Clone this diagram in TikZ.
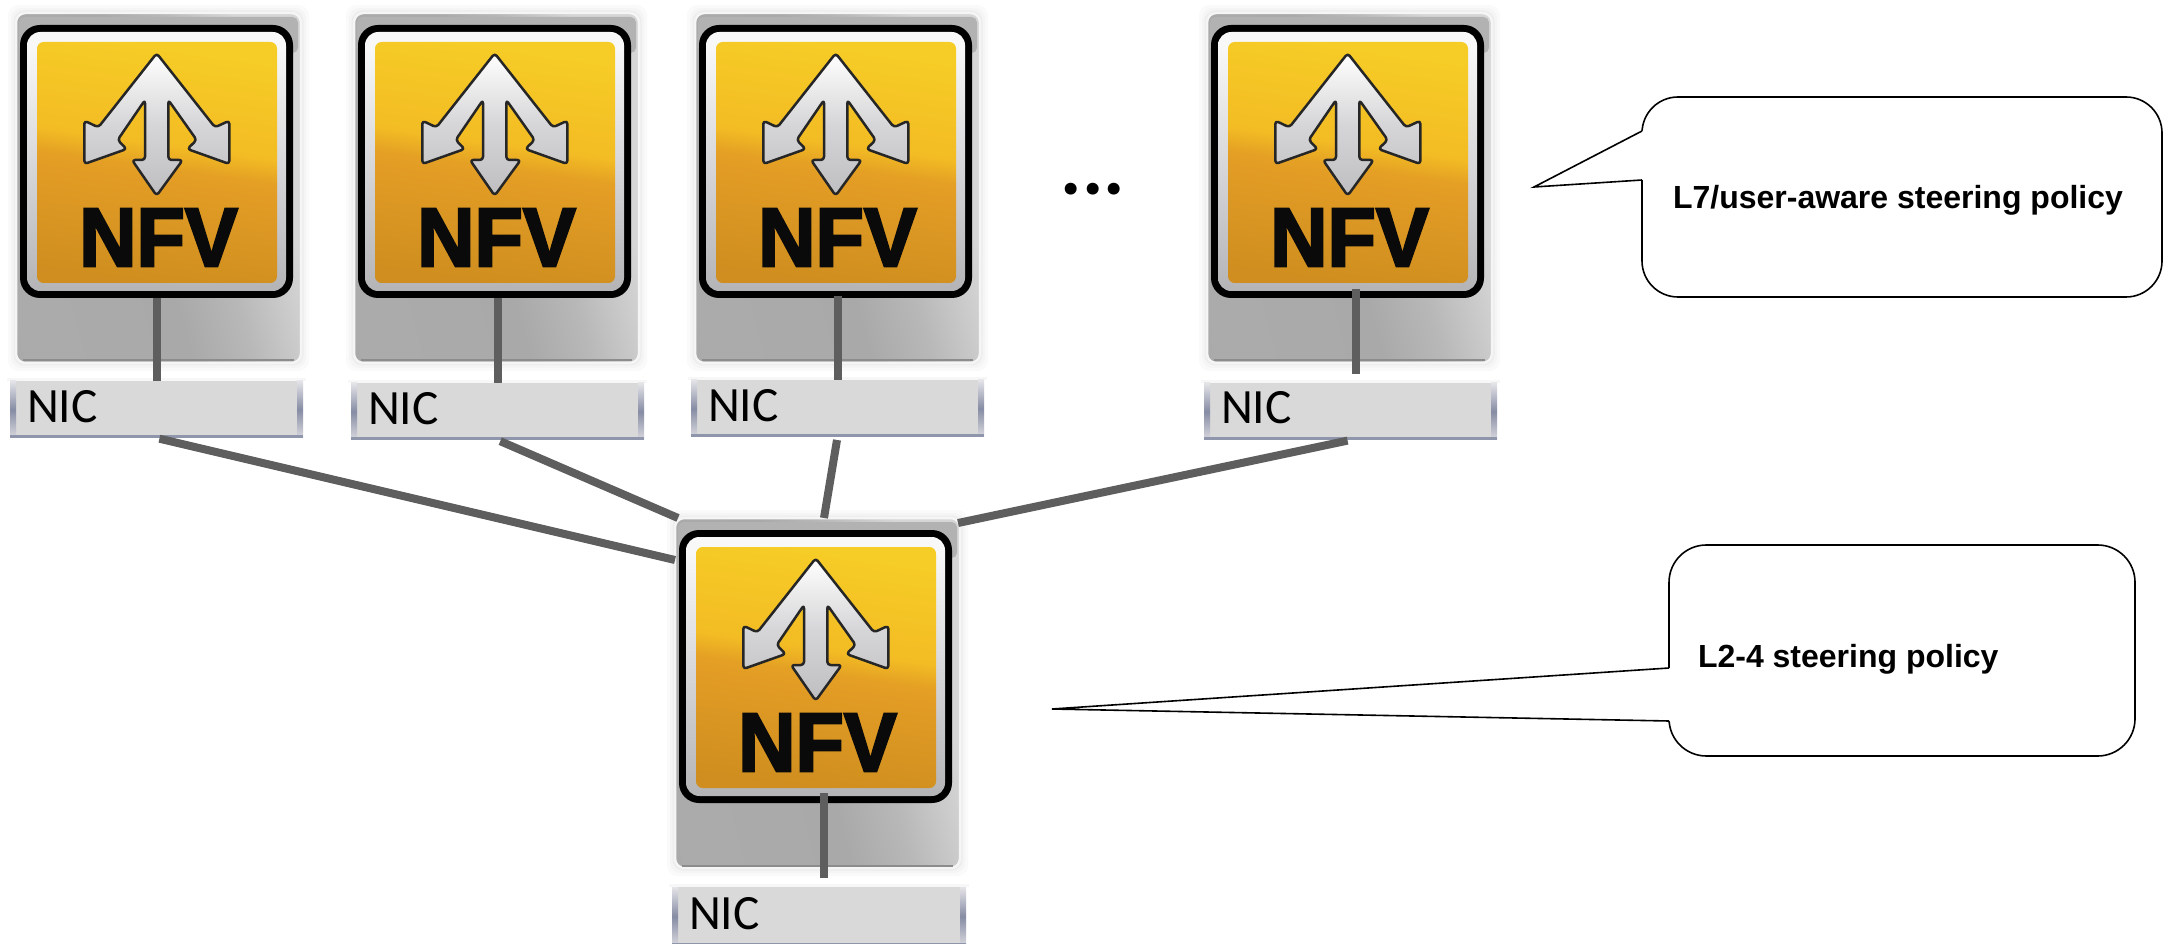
\documentclass[tikz,border=0pt]{standalone}
\usepackage{fontspec}
\usepackage{graphicx}
\setmainfont{Carlito}
\newfontfamily\calloutfont{Liberation Sans}
\newfontfamily\nfvfont[BoldFeatures={FakeBold=3}]{Liberation Sans}
\newdimen\px \px=0.75pt
\definecolor{linkgray}{HTML}{5E5E5E}
\definecolor{nicgray}{HTML}{D9D9D9}
\definecolor{nicedge}{HTML}{8F95AB}
\definecolor{oA}{HTML}{CF8E1F}\definecolor{oB}{HTML}{E39D25}\definecolor{oC}{HTML}{E4A024}\definecolor{oD}{HTML}{F3BC24}\definecolor{oE}{HTML}{F6CD26}
\definecolor{fA}{HTML}{B4B4B6}\definecolor{fB}{HTML}{D8D8DA}\definecolor{fC}{HTML}{F8F8F8}\definecolor{fD}{HTML}{FCFCFC}
\definecolor{aA}{HTML}{BEBEC0}\definecolor{aB}{HTML}{D6D6D8}\definecolor{aC}{HTML}{FAFAFA}
\definecolor{gA}{HTML}{A8A8A8}\definecolor{gB}{HTML}{ABABAB}\definecolor{gC}{HTML}{A9A9A9}\definecolor{gD}{HTML}{B8B8B8}\definecolor{gE}{HTML}{D6D6D6}
\definecolor{eA}{HTML}{D9D9DE}\definecolor{eB}{HTML}{868CA4}\definecolor{eC}{HTML}{E4E4E8}
\colorlet{F0base}{white!96!black}
\pgfdeclareverticalshading{nfvorange}{100bp}{color(0bp)=(oA);color(25bp)=(oA);color(47bp)=(oB);color(49bp)=(oC);color(54bp)=(oD);color(75bp)=(oE);color(100bp)=(oE)}
\pgfdeclareverticalshading{nfvframe}{100bp}{color(0bp)=(fA);color(25bp)=(fA);color(50bp)=(fB);color(72bp)=(fC);color(100bp)=(fD)}
\pgfdeclareverticalshading{nfvarrow}{100bp}{color(0bp)=(aA);color(25bp)=(aA);color(50bp)=(aB);color(72bp)=(aC);color(100bp)=(white)}
\pgfdeclarehorizontalshading{nfvbody}{100bp}{color(0bp)=(gA);color(25bp)=(gB);color(48bp)=(gC);color(58bp)=(gD);color(70bp)=(gE);color(100bp)=(gE)}
\pgfdeclareverticalshading{nicend}{100bp}{color(0bp)=(eA);color(25bp)=(eA);color(50bp)=(eB);color(75bp)=(eC);color(100bp)=(eC)}
\tikzset{
  halo/.style={rounded corners=8pt,draw=none},
  tilebody/.style={shape=rectangle,rounded corners=7pt,inner sep=0pt,outer sep=0pt,minimum width=285\px,minimum height=350\px,shading=nfvbody,shading angle=15,draw=F0base,line width=2.5\px},
  blackframe/.style={fill=black,rounded corners=15pt},
  silverframe/.style={shading=nfvframe,rounded corners=10pt},
  orangepanel/.style={shading=nfvorange,shading angle=-8,rounded corners=5pt},
  trident/.style={shading=nfvarrow,draw=black!85,line width=2.5\px,rounded corners=2.4pt,line join=round},
  nfvlabel/.style={inner sep=0pt,outer sep=0pt,text=black!96},
  nicbody/.style={shape=rectangle,fill=nicgray,inner sep=0pt,outer sep=0pt,anchor=north west},
  nictext/.style={inner sep=0pt,outer sep=0pt,anchor=base west,font=\fontsize{37}{40}\selectfont,text=black},
  downlink/.style={draw=linkgray,line width=8\px},
  uplink/.style={draw=linkgray,line width=8\px,shorten <=3\px},
  bubble/.style={shape=rectangle,draw=black,line width=1.6\px,inner sep=0pt,outer sep=0pt,anchor=north west,fill=white},
  bubbletail/.style={draw=black,line width=1.6\px,line join=miter},
  bubbletext/.style={inner sep=0pt,outer sep=0pt,anchor=base west,font=\calloutfont\bfseries\fontsize{24}{28}\selectfont,text=black},
}
% #1 name, #2 #3 top-left corner of the tile
\newcommand{\nfvtile}[3]{%
  \begin{scope}[shift={(#2,#3)}]
    \fill[halo,fill=black!2] (-8,-8) rectangle (293,358);
    \fill[halo,fill=black!4] (-5,-5) rectangle (290,355);
    \fill[halo,fill=black!7] (-2.5,-2.5) rectangle (287.5,352.5);
    \node[tilebody] (#1) at (142.5,175) {};
    \fill[black!45] (7,346.5) -- (278,346.5) -- (278,348.5) -- (7,348.5) -- cycle;
    \fill[black!30,rounded corners=4pt] (3,4) rectangle (282,40);
    \fill[blackframe] (4,12) rectangle (277,285);
    \path[silverframe] (11,19) rectangle (270,278);
    \path[orangepanel] (21,29) rectangle (261,270);
    \begin{scope}[shift={(-16,-13)},x=0.25pt,y=-0.25pt]
      \path[trident] (470,160) -- (645,382) -- (688,362) -- (688,492) -- (562,447) -- (590,420)
        -- (505,300) -- (505,480) -- (548,480) -- (470,587) -- (396,480) -- (435,480) -- (435,300)
        -- (353,420) -- (380,447) -- (253,492) -- (253,362) -- (295,382) -- cycle;
    \end{scope}
    \node[nfvlabel] (#1label) at (142.5,224.5)
      {\resizebox{119pt}{43pt}{\nfvfont\bfseries NFV}};
  \end{scope}}
% #1 name, #2 #3 top-left, #4 #5 bottom-right, #6 #7 text base-left
\newcommand{\nicslab}[7]{%
  \pgfmathsetmacro{\nicw}{#4-#2}\pgfmathsetmacro{\nich}{#5-#3}
  \fill[black!3] (#2-3,#3-3) rectangle (#4+3,#3);
  \node[nicbody,minimum width=\nicw\px,minimum height=\nich\px] (#1) at (#2,#3) {};
  \shade[shading=nicend] (#2,#3) rectangle (#2+6,#5);
  \shade[shading=nicend] (#4-6,#3) rectangle (#4,#5);
  \fill[nicedge] (#2,#5-3) rectangle (#4,#5);
  \node[nictext] (#1text) at (#6,#7) {NIC};}
\begin{document}
\begin{tikzpicture}[x=0.75pt,y=-0.75pt]
  \useasboundingbox (0,0) rectangle (2169,944);
  \fill[white] (0,0) rectangle (2169,944);

  \nfvtile{t1}{16}{13}
  \nfvtile{t2}{354}{13}
  \nfvtile{t3}{695}{13}
  \nfvtile{t4}{1207}{13}
  \nfvtile{tc}{675}{518}

  \nicslab{n1}{10}{381}{303}{438}{27}{423}
  \nicslab{n2}{351}{383}{644}{440}{368}{425}
  \nicslab{n3}{691}{380}{984}{437}{708}{422}
  \nicslab{n4}{1204}{383}{1497}{440}{1221}{424}
  \nicslab{nc}{672}{887}{966}{946}{689}{929}

  \coordinate (e1) at (675,560);
  \coordinate (e2) at (678,518);
  \coordinate (e3) at (824,518);
  \coordinate (e4) at (958,523);
  \draw[uplink] (n1.south) -- (e1);
  \draw[uplink] (n2.south) -- (e2);
  \draw[uplink] (n3.south) -- (e3);
  \draw[uplink] (n4.south) -- (e4);

  \coordinate (v1) at (157,298);
  \coordinate (v2) at (498,298);
  \coordinate (v3) at (838,296);
  \coordinate (v4) at (1356,289);
  \coordinate (vc) at (824,793);
  \draw[downlink] (v1) -- (v1 |- n1.north);
  \draw[downlink] (v2) -- (v2 |- n2.north);
  \draw[downlink] (v3) -- (v3 |- n3.north);
  \draw[downlink,shorten >=9\px] (v4) -- (v4 |- n4.north);
  \draw[downlink,shorten >=9\px] (vc) -- (vc |- nc.north);

  \node[inner sep=0pt,outer sep=0pt,font=\bfseries\fontsize{60}{64}\selectfont] (dots) at (1093,189) {...};

  \node[bubble,rounded corners=27pt,minimum width=520\px,minimum height=200\px] (b1) at (1642,97) {};
  \coordinate (b1a) at (1642,131);
  \coordinate (b1t) at (1534,187);
  \coordinate (b1b) at (1642,180);
  \fill[white] (b1a) -- (b1t) -- (b1b) -- ([xshift=2\px]b1b) -- ([xshift=2\px]b1a) -- cycle;
  \draw[bubbletail] (b1a) -- (b1t) -- (b1b);
  \node[bubbletext] (b1text) at (1673,209) {L7/user-aware steering policy};

  \node[bubble,rounded corners=28pt,minimum width=466\px,minimum height=211\px] (b2) at (1669,545) {};
  \coordinate (b2a) at (1669,668);
  \coordinate (b2t) at (1052,709);
  \coordinate (b2b) at (1669,721);
  \fill[white] (b2a) -- (b2t) -- (b2b) -- ([xshift=2\px]b2b) -- ([xshift=2\px]b2a) -- cycle;
  \draw[bubbletail] (b2a) -- (b2t) -- (b2b);
  \node[bubbletext] (b2text) at (1698,667) {L2-4 steering policy};
\end{tikzpicture}
\end{document}
